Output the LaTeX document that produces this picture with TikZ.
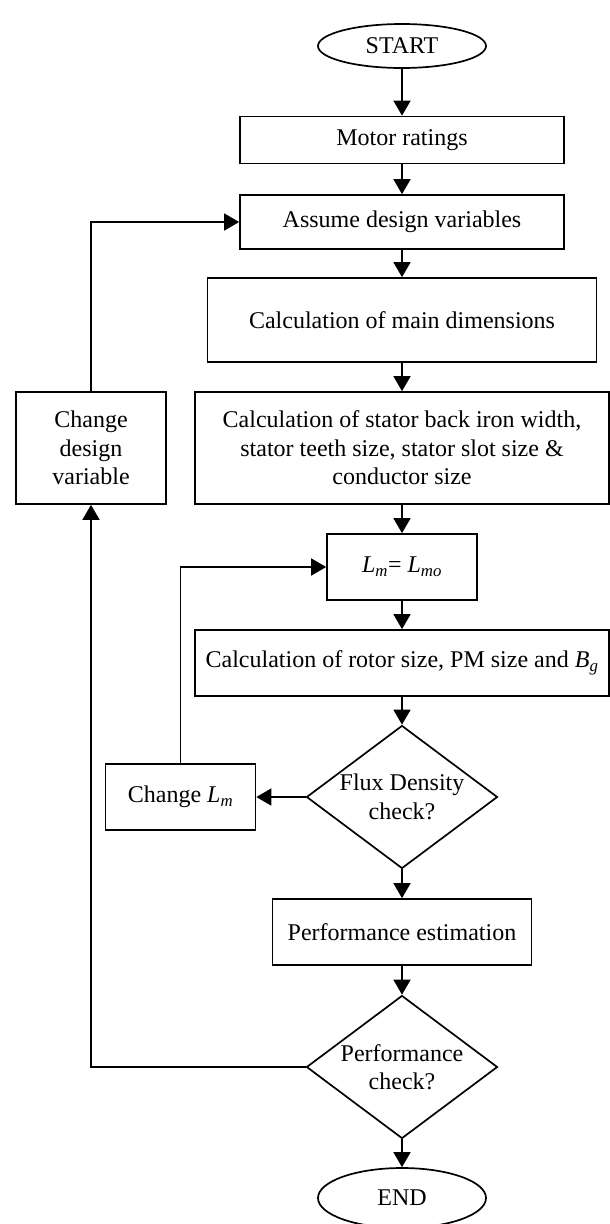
\documentclass[tikz,border=0pt]{standalone}
\usepackage{fontspec}
\setmainfont{Liberation Serif}
\usetikzlibrary{shapes,arrows.meta,positioning,calc}

\begin{document}
\begin{tikzpicture}[x=1pt,y=-1pt,
    font=\fontsize{24}{28.5}\selectfont,
    >={Triangle[length=15pt,width=17pt]},
    box/.style={rectangle,draw=black,line width=1.7pt,inner sep=0pt,align=center},
    term/.style={ellipse,draw=black,line width=1.7pt,inner sep=0pt,minimum width=168pt},
    decision/.style={diamond,aspect=1.34,draw=black,line width=1.7pt,inner sep=0pt,align=center,minimum width=191pt,minimum height=143pt},
    flow/.style={->,color=black,line width=1.7pt}]
    %Definitions - page size in pixels of the original figure%
    %===========================================================
    \def \Colx {402}; %Centre line of main column
    \useasboundingbox (0,0) rectangle (610,1224);
    %Main column%
    %===========================================================
    \node (start) at (\Colx,46) [term,minimum height=44pt] {START};
    \node (ratings) at (\Colx,140) [box,minimum width=324pt,minimum height=47pt] {Motor ratings};
    \node (assume) at (\Colx,222) [box,minimum width=324pt,minimum height=54pt] {Assume design variables};
    \node (maindim) at (\Colx,320) [box,minimum width=389pt,minimum height=84pt] {Calculation of main dimensions};
    \node (stator) at (\Colx,448) [box,minimum width=414pt,minimum height=112pt] {Calculation of stator back iron width,\\ stator teeth size, stator slot size \&\\ conductor size};
    \node (lm) at (\Colx,567) [box,minimum width=150pt,minimum height=66pt] {\textit{L}\textsubscript{\textit{m}}= \textit{L}\textsubscript{\textit{mo}}};
    \node (rotor) at (\Colx,663) [box,minimum width=414pt,minimum height=66pt] {Calculation of rotor size, PM size and \textit{B}\textsubscript{\textit{g}}};
    \node (flux) at (\Colx,797) [decision] {Flux Density\\ check?}; %Inner check
    \node (perfest) at (\Colx,932) [box,minimum width=259pt,minimum height=66pt] {Performance estimation};
    \node (perfcheck) at (\Colx,1067) [decision] {Performance\\ check?}; %Outer check
    \node (end) at (\Colx,1198) [term,minimum height=60pt] {END};
    %Side boxes%
    %===========================================================
    \node (changevar) at (91,448) [box,minimum width=150pt,minimum height=112pt] {Change\\ design\\ variable};
    \node (changelm) at (180.5,797) [box,minimum width=150pt,minimum height=66pt] {Change \textit{L}\textsubscript{\textit{m}}};
    %Arrows%
    %===========================================================
    \draw[flow] (start) -- (ratings);
    \draw[flow] (ratings) -- (assume);
    \draw[flow] (assume) -- (maindim);
    \draw[flow] (maindim) -- (stator);
    \draw[flow] (stator) -- (lm);
    \draw[flow] (lm) -- (rotor);
    \draw[flow] (rotor) -- (flux);
    \draw[flow] (flux) -- (perfest);
    \draw[flow] (perfest) -- (perfcheck);
    \draw[flow] (perfcheck) -- (end);
    \draw[flow] (flux.west) -- (changelm.east);
    \draw[flow] (changelm.north) |- (lm.west); %Loop back for magnet length
    \draw[flow] (perfcheck.west) -| (changevar.south);
    \draw[flow] (changevar.north) |- (assume.west); %Loop back for design variables
\end{tikzpicture}
\end{document}
